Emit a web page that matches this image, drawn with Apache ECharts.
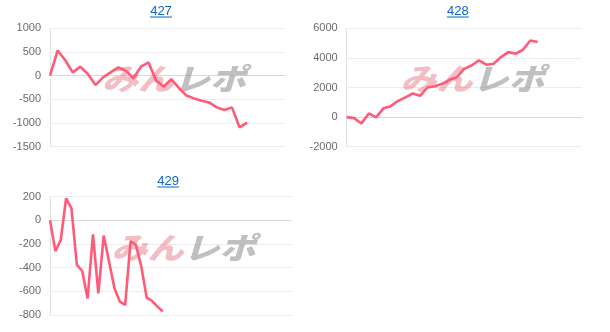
<!DOCTYPE html>
<html>
<head>
<meta charset="utf-8">
<script src="https://cdn.jsdelivr.net/npm/echarts@6/dist/echarts.min.js"></script>
<style>
html,body{margin:0;padding:0;background:#fff;}
#main{width:610px;height:332px;}
</style>
</head>
<body>
<div id="main"></div>
<script>
// ---- data ----
var titles = ['427', '428', '429'];
var catCount427 = 32;
var catCount428 = 33;
var catCount429 = 46;
var values427 = [0, 530, 330, 70, 190, 35, -200, -35, 70, 175, 105, -55, 190, 280, -105, -230, -75, -260, -420, -480, -530, -565, -670, -725, -670, -1090, -990];
var values428 = [0, -70, -430, 250, -20, 590, 740, 1100, 1330, 1600, 1440, 2000, 2080, 2250, 2520, 2700, 3260, 3490, 3830, 3540, 3600, 4050, 4390, 4280, 4550, 5180, 5070];
var values429 = [0, -260, -166, 187, 102, -377, -428, -660, -118, -617, -129, -349, -574, -687, -715, -174, -208, -391, -653, -681, -729, -771];
var yTicks427 = [-1500, 1000, 500];   // min, max, interval
var yTicks428 = [-2000, 6000, 2000];
var yTicks429 = [-800, 200, 200];

function cats(n) { var a = []; for (var i = 1; i <= n; i++) a.push(String(i)); return a; }

var grids = [
  {left: 50, top: 28.3, width: 235, height: 118.4},
  {left: 346.7, top: 28.3, width: 235, height: 118.4},
  {left: 50, top: 196.7, width: 241.7, height: 118.3}
];
var counts = [catCount427, catCount428, catCount429];
var seriesVals = [values427, values428, values429];
var ticks = [yTicks427, yTicks428, yTicks429];

var lineColor = '#ff5b79';
var linkColor = '#0b67c9';
var labelFont = 'Liberation Sans, Arial, sans-serif';

var xAxes = [], yAxes = [], series = [], graphics = [];
for (var i = 0; i < 3; i++) {
  xAxes.push({
    type: 'category', gridIndex: i, data: cats(counts[i]), boundaryGap: false,
    axisLabel: {show: false}, axisTick: {show: false},
    axisLine: {show: true, onZero: true, lineStyle: {color: '#d9d9d9', width: 1}},
    splitLine: {show: false}
  });
  yAxes.push({
    type: 'value', gridIndex: i, min: ticks[i][0], max: ticks[i][1], interval: ticks[i][2],
    axisLine: {show: true, lineStyle: {color: '#e2e2e2'}},
    axisTick: {show: false},
    axisLabel: {color: '#6b6b6b', fontSize: 11, margin: 9, fontFamily: labelFont,
      formatter: function (v) { return String(v); }},
    splitLine: {show: true, lineStyle: {color: '#ececec', width: 1}}
  });
  series.push({
    type: 'line', xAxisIndex: i, yAxisIndex: i, data: seriesVals[i],
    showSymbol: false, symbol: 'none', smooth: false, z: 3,
    lineStyle: {color: lineColor, width: 2.6},
    animation: false
  });
}

// titles (link style) with underline
var titlePos = [[161, 11.5], [457.8, 11.5], [168.2, 181.5]];
for (var j = 0; j < 3; j++) {
  graphics.push({
    type: 'text', x: titlePos[j][0], y: titlePos[j][1], z: 5,
    style: {text: titles[j], fill: linkColor, font: '13px ' + labelFont, textAlign: 'center', textVerticalAlign: 'middle'}
  });
  graphics.push({
    type: 'line', z: 5,
    shape: {x1: titlePos[j][0] - 11, y1: titlePos[j][1] + 5.5, x2: titlePos[j][0] + 11, y2: titlePos[j][1] + 5.5},
    style: {stroke: linkColor, lineWidth: 1}
  });
}

// watermark
var wmPos = [[174, 79], [472.5, 79], [183.5, 248]];
for (var k = 0; k < 3; k++) {
  graphics.push({
    type: 'text', x: wmPos[k][0], y: wmPos[k][1], z: 1, scaleX: 1.2, scaleY: 1,
    style: {
      text: '{a|みん}{b|レポ}', textAlign: 'center', textVerticalAlign: 'middle',
      rich: {
        a: {fill: 'rgba(228,110,122,0.45)', fontSize: 30, fontWeight: 900, fontStyle: 'italic', fontFamily: 'Noto Sans CJK JP'},
        b: {fill: 'rgba(140,140,140,0.55)', fontSize: 30, fontWeight: 900, fontStyle: 'italic', fontFamily: 'Noto Sans CJK JP'}
      }
    }
  });
}

var chart = echarts.init(document.getElementById('main'), null, {renderer: 'canvas'});
chart.setOption({
  animation: false,
  grid: grids,
  xAxis: xAxes,
  yAxis: yAxes,
  series: series,
  graphic: {elements: graphics}
});
</script>
</body>
</html>
